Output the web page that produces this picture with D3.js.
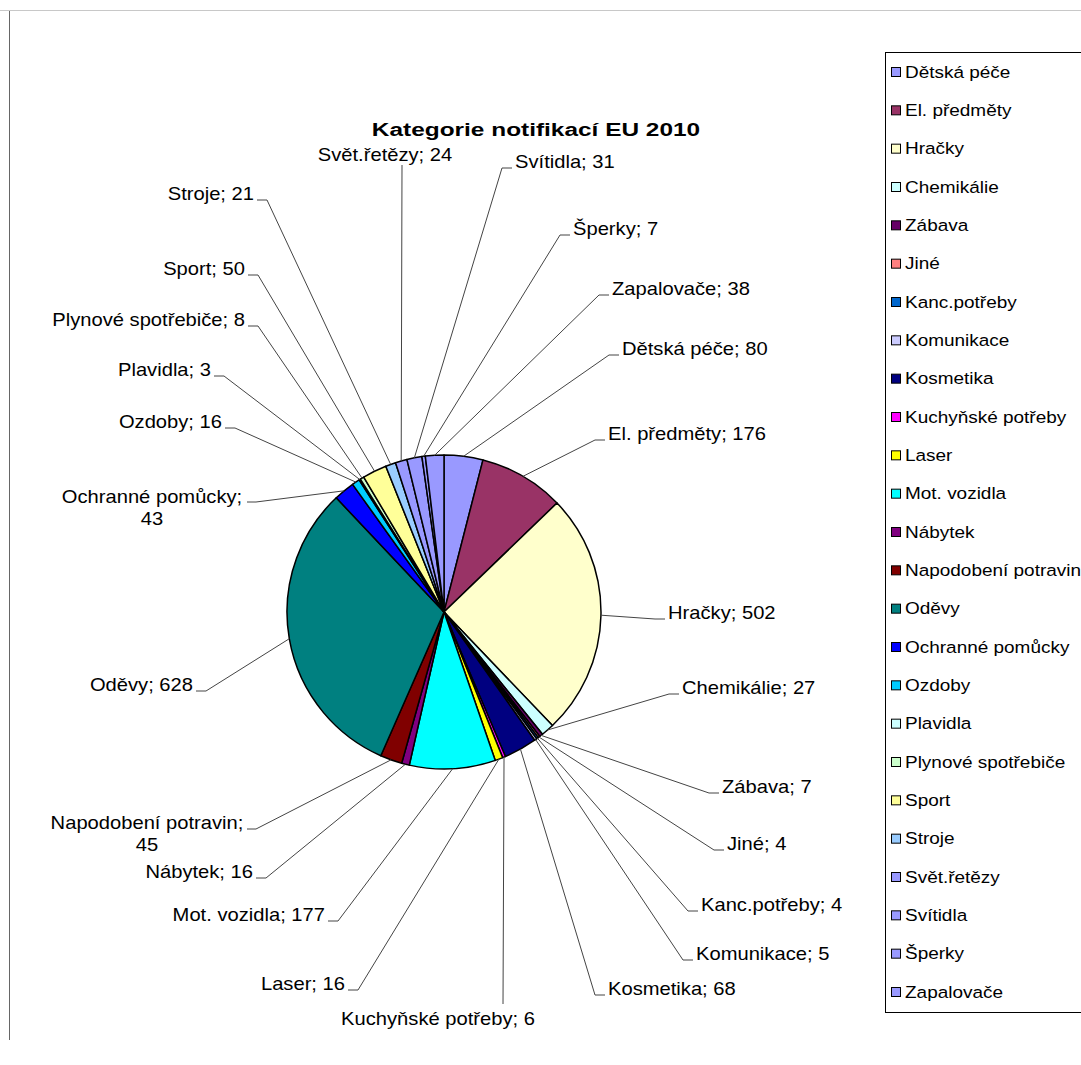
<!DOCTYPE html>
<html>
<head>
<meta charset="utf-8">
<script src="https://cdn.jsdelivr.net/npm/d3@7"></script>
<style>
  body { margin: 0; background: #fff; }
  svg text { font-family: "Liberation Sans", Arial, sans-serif; fill: #000; }
</style>
</head>
<body>
<div id="chart"></div>
<script>
// data
var categories = ["Dětská péče", "El. předměty", "Hračky", "Chemikálie", "Zábava", "Jiné",
    "Kanc.potřeby", "Komunikace", "Kosmetika", "Kuchyňské potřeby", "Laser", "Mot. vozidla",
    "Nábytek", "Napodobení potravin", "Oděvy", "Ochranné pomůcky", "Ozdoby", "Plavidla",
    "Plynové spotřebiče", "Sport", "Stroje", "Svět.řetězy", "Svítidla", "Šperky", "Zapalovače"];
var values = [80, 176, 502, 27, 7, 4, 4, 5, 68, 6, 16, 177, 16, 45, 628, 43, 16, 3, 8, 50, 21, 24, 31, 7, 38];
var colors = ["#9999FF", "#993366", "#FFFFCC", "#CCFFFF", "#660066", "#FF8080", "#0066CC", "#CCCCFF",
    "#000080", "#FF00FF", "#FFFF00", "#00FFFF", "#800080", "#800000", "#008080", "#0000FF",
    "#00CCFF", "#CCFFFF", "#CCFFCC", "#FFFF99", "#99CCFF", "#9999FF", "#9999FF", "#9999FF", "#9999FF"];
var title = "Kategorie notifikací EU 2010";

// label placement (Excel put them by hand)
var labelLayout = [
    {x: 622, y: 349, a: "start"}, {x: 608, y: 434, a: "start"}, {x: 668, y: 613, a: "start"},
    {x: 682, y: 688, a: "start"}, {x: 722, y: 787, a: "start"}, {x: 727, y: 844, a: "start"},
    {x: 701, y: 905, a: "start"}, {x: 696, y: 954, a: "start"}, {x: 608, y: 989, a: "start"},
    {x: 438, y: 1019, a: "middle", ex: 503, ey: 1004, tick: 0},
    {x: 345, y: 984, a: "end"}, {x: 325, y: 915, a: "end"}, {x: 253, y: 872, a: "end"},
    {x: 147, y: 823, a: "middle", wrap: true, ex: 247, ey: 829, tick: 9},
    {x: 193, y: 685, a: "end"},
    {x: 152, y: 497, a: "middle", wrap: true, ex: 247, ey: 502, tick: 9},
    {x: 222, y: 422, a: "end"}, {x: 211, y: 370, a: "end"}, {x: 245, y: 320, a: "end"},
    {x: 245, y: 269, a: "end"}, {x: 254, y: 194, a: "end"},
    {x: 385, y: 155, a: "middle", ex: 402, ey: 165, tick: 0},
    {x: 515, y: 162, a: "start"}, {x: 573, y: 229, a: "start"}, {x: 612, y: 289, a: "start"}
];

var width = 1081, height = 1065,
    cx = 444, cy = 612, radius = 157,
    labelScale = 1.12, legendScale = 1.15;

var svg = d3.select("#chart").append("svg")
    .attr("width", width)
    .attr("height", height);

// chart frame
svg.append("line").attr("x1", 0).attr("x2", width).attr("y1", 10.5).attr("y2", 10.5)
    .attr("stroke", "#c8c8c8");
svg.append("line").attr("x1", 9.5).attr("x2", 9.5).attr("y1", 11).attr("y2", 1040)
    .attr("stroke", "#666");

var pie = d3.pie().value(function (d) { return d; }).sort(null);
var arcs = pie(values);
var arc = d3.arc().innerRadius(0).outerRadius(radius);

var g = svg.append("g").attr("transform", "translate(" + cx + "," + cy + ")");
g.selectAll("path").data(arcs).enter().append("path")
    .attr("d", arc)
    .attr("fill", function (d, i) { return colors[i]; })
    .attr("stroke", "#000")
    .attr("stroke-width", 1.5)
    .attr("stroke-linejoin", "round");

// leader lines + labels
var lab = svg.append("g");
arcs.forEach(function (d, i) {
    var L = labelLayout[i];
    var mid = (d.startAngle + d.endAngle) / 2;
    var sx = cx + radius * Math.sin(mid), sy = cy - radius * Math.cos(mid);
    var ex, ey, tick;
    if (L.ex !== undefined) { ex = L.ex; ey = L.ey; tick = L.tick; }
    else if (L.a === "start") { ex = L.x - 3; ey = L.y + 6; tick = -10; }
    else { ex = L.x + 3; ey = L.y + 6; tick = 10; }
    lab.append("polyline")
        .attr("points", [[sx, sy], [ex + tick, ey], [ex, ey]].map(function (p) { return p.join(","); }).join(" "))
        .attr("fill", "none")
        .attr("stroke", "#444")
        .attr("stroke-width", 1);

    var lines = L.wrap ? [categories[i] + ";", String(values[i])] : [categories[i] + "; " + values[i]];
    var t = lab.append("g")
        .attr("transform", "translate(" + L.x + "," + L.y + ") scale(" + labelScale + ",1)")
        .append("text")
        .attr("text-anchor", L.a)
        .style("font-size", "18px");
    lines.forEach(function (s, k) {
        t.append("tspan").attr("x", 0).attr("y", k * 22).attr("dy", "0.35em").text(s);
    });
});

// title
svg.append("g")
    .attr("transform", "translate(536,136) scale(1.32,1)")
    .append("text")
    .attr("text-anchor", "middle")
    .style("font-size", "18.5px")
    .style("font-weight", "bold")
    .text(title);

// legend
var legend = svg.append("g");
legend.append("rect")
    .attr("x", 885.5).attr("y", 52.5)
    .attr("width", 210).attr("height", 960)
    .attr("fill", "#fff").attr("stroke", "#000");

var ly = d3.scalePoint().domain(categories).range([72, 992]);
var item = legend.selectAll("g.item").data(categories).enter().append("g")
    .attr("class", "item")
    .attr("transform", function (d) { return "translate(0," + ly(d) + ")"; });
item.append("rect")
    .attr("x", 891.5).attr("y", -4.5)
    .attr("width", 9).attr("height", 9)
    .attr("fill", function (d, i) { return colors[i]; })
    .attr("stroke", "#000");
item.append("g")
    .attr("transform", "translate(905,0) scale(" + legendScale + ",1)")
    .append("text")
    .attr("dy", "0.35em")
    .style("font-size", "16.5px")
    .text(function (d) { return d; });
</script>
</body>
</html>
